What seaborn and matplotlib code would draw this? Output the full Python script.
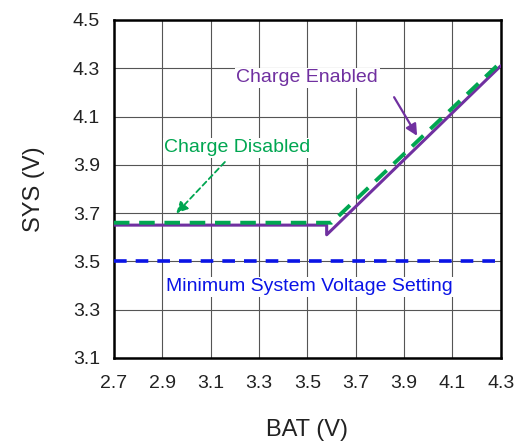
import numpy as np
import pandas as pd
import seaborn as sns
import matplotlib.pyplot as plt

# data
bat_enabled = [2.7, 3.58, 3.58, 4.3]
sys_enabled = [3.65, 3.65, 3.61, 4.31]
bat_disabled = [2.7, 3.6, 4.3]
sys_disabled = [3.66, 3.66, 4.325]
bat_min = [2.7, 4.3]
sys_min = [3.5, 3.5]
x_ticks = [2.7, 2.9, 3.1, 3.3, 3.5, 3.7, 3.9, 4.1, 4.3]
y_ticks = [3.1, 3.3, 3.5, 3.7, 3.9, 4.1, 4.3, 4.5]

purple = '#7030A0'
green = '#00A651'
blue = '#0A14E6'

sns.set_style("white")
plt.rcParams['font.family'] = ['Liberation Sans', 'DejaVu Sans']

fig = plt.figure(figsize=(5.2, 4.44), dpi=100)
ax = fig.add_axes([0.219, 0.194, 0.744, 0.761])

df_en = pd.DataFrame({'BAT': bat_enabled, 'SYS': sys_enabled})
df_dis = pd.DataFrame({'BAT': bat_disabled, 'SYS': sys_disabled})
df_min = pd.DataFrame({'BAT': bat_min, 'SYS': sys_min})

sns.lineplot(data=df_en, x='BAT', y='SYS', sort=False, estimator=None, color=purple,
             lw=2.2, ax=ax, zorder=3)
sns.lineplot(data=df_dis, x='BAT', y='SYS', sort=False, estimator=None, color=green,
             lw=2.8, ax=ax, zorder=4, linestyle=(0, (4, 2.5)))
sns.lineplot(data=df_min, x='BAT', y='SYS', sort=False, estimator=None, color=blue,
             lw=2.6, ax=ax, zorder=4, linestyle=(0, (3.5, 2.5)))

ax.set_xlim(2.7, 4.3)
ax.set_ylim(3.1, 4.5)
ax.set_xticks(x_ticks)
ax.set_yticks(y_ticks)
ax.set_xticklabels([f'{v:.1f}' for v in x_ticks])
ax.set_yticklabels([f'{v:.1f}' for v in y_ticks])
ax.tick_params(length=0, labelsize=14, colors='#222222')
ax.tick_params(axis='x', pad=12)
ax.tick_params(axis='y', pad=10)
ax.grid(True, color='#555555', lw=0.8)
ax.set_axisbelow(True)
for s in ax.spines.values():
    s.set_color('black')
    s.set_linewidth(1.8)

ax.set_xlabel('BAT (V)', fontsize=17, labelpad=20, color='#222222')
ax.set_ylabel('SYS (V)', fontsize=17, labelpad=20, color='#222222')

ax.text(3.5, 4.26, 'Charge Enabled', color=purple, fontsize=14, ha='center', va='center',
        bbox=dict(facecolor='white', edgecolor='none', pad=1))
ax.annotate('', xy=(3.96, 4.01), xytext=(3.853, 4.19),
            arrowprops=dict(arrowstyle='-|>', color=purple, lw=1.6, mutation_scale=17))
ax.text(3.21, 3.97, 'Charge Disabled', color=green, fontsize=14, ha='center', va='center',
        bbox=dict(facecolor='white', edgecolor='none', pad=1))
ax.annotate('', xy=(2.95, 3.69), xytext=(3.167, 3.92),
            arrowprops=dict(arrowstyle='-|>', color=green, lw=1.3, ls=(0, (3, 2)),
                            mutation_scale=17))
ax.text(3.51, 3.394, 'Minimum System Voltage Setting', color=blue, fontsize=14,
        ha='center', va='center', bbox=dict(facecolor='white', edgecolor='none', pad=1))

fig.savefig('out.png', dpi=100)
